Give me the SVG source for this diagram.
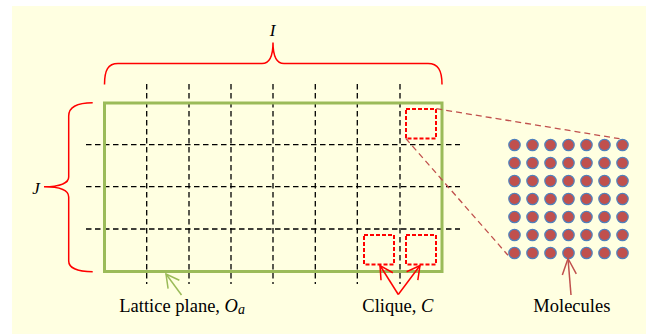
<svg xmlns="http://www.w3.org/2000/svg" width="646" height="334" viewBox="0 0 646 334">
<style>
text{font-family:'Liberation Serif','DejaVu Serif',serif;font-size:18.5px;fill:#000}
.it{font-style:italic}
.grid{stroke:#000;stroke-width:1.3;stroke-dasharray:5.5 3.5;fill:none}
.brace{stroke:#FF0000;stroke-width:1.5;fill:none}
.clique{stroke:#FF0000;stroke-width:2;stroke-dasharray:4 2;fill:none}
.zoom{stroke:#C0504D;stroke-width:1.3;stroke-dasharray:6 4;fill:none}
.mol{fill:#C0504D;stroke:#4F81BD;stroke-width:1.2}
</style>
<defs>
<marker id="aG" markerUnits="userSpaceOnUse" markerWidth="20" markerHeight="20" refX="0" refY="0" viewBox="-16 -10 20 20" orient="auto" overflow="visible"><path d="M-13,-7 L0,0 L-13,7" fill="none" stroke="#9BBB59" stroke-width="1.5"/></marker>
<marker id="aR" markerUnits="userSpaceOnUse" markerWidth="20" markerHeight="20" refX="0" refY="0" viewBox="-16 -10 20 20" orient="auto" overflow="visible"><path d="M-13,-7 L0,0 L-13,7" fill="none" stroke="#FF0000" stroke-width="1.5"/></marker>
<marker id="aB" markerUnits="userSpaceOnUse" markerWidth="20" markerHeight="20" refX="0" refY="0" viewBox="-18 -10 20 20" orient="auto" overflow="visible"><path d="M-16,-7 L0,0 L-16,7" fill="none" stroke="#C0504D" stroke-width="1.5"/></marker>
</defs>
<rect x="12" y="6" width="640" height="340" fill="#FFFFE1"/>

<g id="lattice">
<g class="grid">
<path d="M146.7,84 V284 M189,84 V284 M231,84 V284 M273,84 V284 M315.3,84 V284 M357.3,84 V284 M400,84 V284"/>
<path d="M86,144.7 H460 M86,186.7 H460 M86,229 H460"/>
</g>
<rect x="104.5" y="103" width="337.5" height="168.5" fill="none" stroke="#9BBB59" stroke-width="3"/>
</g>

<g id="brace-I">
<path class="brace" d="M104.5,84.5 C104.5,70 108,63.5 118,63.5 L262,63.5 C268,63.5 273,58 273,42.5 C273,58 278,63.5 284,63.5 L428,63.5 C438,63.5 442,70 442,84.5"/>
<text class="it" x="272.5" y="36" text-anchor="middle" font-family="Liberation Serif" style="font-size:17px">I</text>
</g>

<g id="brace-J">
<path class="brace" d="M92.7,102.7 C78,102.7 68.7,106 68.7,116 L68.7,177 C68.7,183 60,186.7 44,186.7 C60,186.7 68.7,190 68.7,197 L68.7,261 C68.7,268 78,271.7 92.7,271.7"/>
<text class="it" x="36" y="193.5" text-anchor="middle" font-family="Liberation Serif" style="font-size:17px">J</text>
</g>

<g id="cliques">
<rect class="clique" x="406" y="109" width="30" height="29.5"/>
<rect class="clique" x="364" y="235" width="30" height="29.5"/>
<rect class="clique" x="406" y="235" width="30" height="29.5"/>
</g>

<g id="molecules">
<g id="mol-row1"><circle class="mol" cx="514.5" cy="145" r="5.7"/><circle class="mol" cx="532.5" cy="145" r="5.7"/><circle class="mol" cx="550.5" cy="145" r="5.7"/><circle class="mol" cx="568.5" cy="145" r="5.7"/><circle class="mol" cx="586.5" cy="145" r="5.7"/><circle class="mol" cx="604.5" cy="145" r="5.7"/><circle class="mol" cx="622.5" cy="145" r="5.7"/></g>
<g id="mol-row2"><circle class="mol" cx="514.5" cy="163" r="5.7"/><circle class="mol" cx="532.5" cy="163" r="5.7"/><circle class="mol" cx="550.5" cy="163" r="5.7"/><circle class="mol" cx="568.5" cy="163" r="5.7"/><circle class="mol" cx="586.5" cy="163" r="5.7"/><circle class="mol" cx="604.5" cy="163" r="5.7"/><circle class="mol" cx="622.5" cy="163" r="5.7"/></g>
<g id="mol-row3"><circle class="mol" cx="514.5" cy="181" r="5.7"/><circle class="mol" cx="532.5" cy="181" r="5.7"/><circle class="mol" cx="550.5" cy="181" r="5.7"/><circle class="mol" cx="568.5" cy="181" r="5.7"/><circle class="mol" cx="586.5" cy="181" r="5.7"/><circle class="mol" cx="604.5" cy="181" r="5.7"/><circle class="mol" cx="622.5" cy="181" r="5.7"/></g>
<g id="mol-row4"><circle class="mol" cx="514.5" cy="199" r="5.7"/><circle class="mol" cx="532.5" cy="199" r="5.7"/><circle class="mol" cx="550.5" cy="199" r="5.7"/><circle class="mol" cx="568.5" cy="199" r="5.7"/><circle class="mol" cx="586.5" cy="199" r="5.7"/><circle class="mol" cx="604.5" cy="199" r="5.7"/><circle class="mol" cx="622.5" cy="199" r="5.7"/></g>
<g id="mol-row5"><circle class="mol" cx="514.5" cy="217" r="5.7"/><circle class="mol" cx="532.5" cy="217" r="5.7"/><circle class="mol" cx="550.5" cy="217" r="5.7"/><circle class="mol" cx="568.5" cy="217" r="5.7"/><circle class="mol" cx="586.5" cy="217" r="5.7"/><circle class="mol" cx="604.5" cy="217" r="5.7"/><circle class="mol" cx="622.5" cy="217" r="5.7"/></g>
<g id="mol-row6"><circle class="mol" cx="514.5" cy="235" r="5.7"/><circle class="mol" cx="532.5" cy="235" r="5.7"/><circle class="mol" cx="550.5" cy="235" r="5.7"/><circle class="mol" cx="568.5" cy="235" r="5.7"/><circle class="mol" cx="586.5" cy="235" r="5.7"/><circle class="mol" cx="604.5" cy="235" r="5.7"/><circle class="mol" cx="622.5" cy="235" r="5.7"/></g>
<g id="mol-row7"><circle class="mol" cx="514.5" cy="253" r="5.7"/><circle class="mol" cx="532.5" cy="253" r="5.7"/><circle class="mol" cx="550.5" cy="253" r="5.7"/><circle class="mol" cx="568.5" cy="253" r="5.7"/><circle class="mol" cx="586.5" cy="253" r="5.7"/><circle class="mol" cx="604.5" cy="253" r="5.7"/><circle class="mol" cx="622.5" cy="253" r="5.7"/></g>
</g>

<g id="connectors">
<line class="zoom" x1="436.3" y1="108.7" x2="619.5" y2="138.7"/>
<line class="zoom" x1="405.7" y1="138.3" x2="508" y2="255.3"/>
<line x1="181.5" y1="295" x2="166" y2="274" stroke="#9BBB59" stroke-width="1.5" marker-end="url(#aG)"/>
<line x1="398.3" y1="294.5" x2="380" y2="265.5" stroke="#FF0000" stroke-width="1.5" marker-end="url(#aR)"/>
<line x1="398.3" y1="294.5" x2="420" y2="265.5" stroke="#FF0000" stroke-width="1.5" marker-end="url(#aR)"/>
<line x1="571" y1="295" x2="568" y2="258.5" stroke="#C0504D" stroke-width="1.5" marker-end="url(#aB)"/>
</g>

<g id="labels">
<text x="119.3" y="311.7" font-family="Liberation Serif">Lattice plane, <tspan class="it">O</tspan><tspan class="it" style="font-size:14px" dy="2">a</tspan></text>
<text x="362.3" y="311.7" font-family="Liberation Serif">Clique, <tspan class="it">C</tspan></text>
<text x="533.3" y="311.7" font-family="Liberation Serif">Molecules</text>
</g>
</svg>
